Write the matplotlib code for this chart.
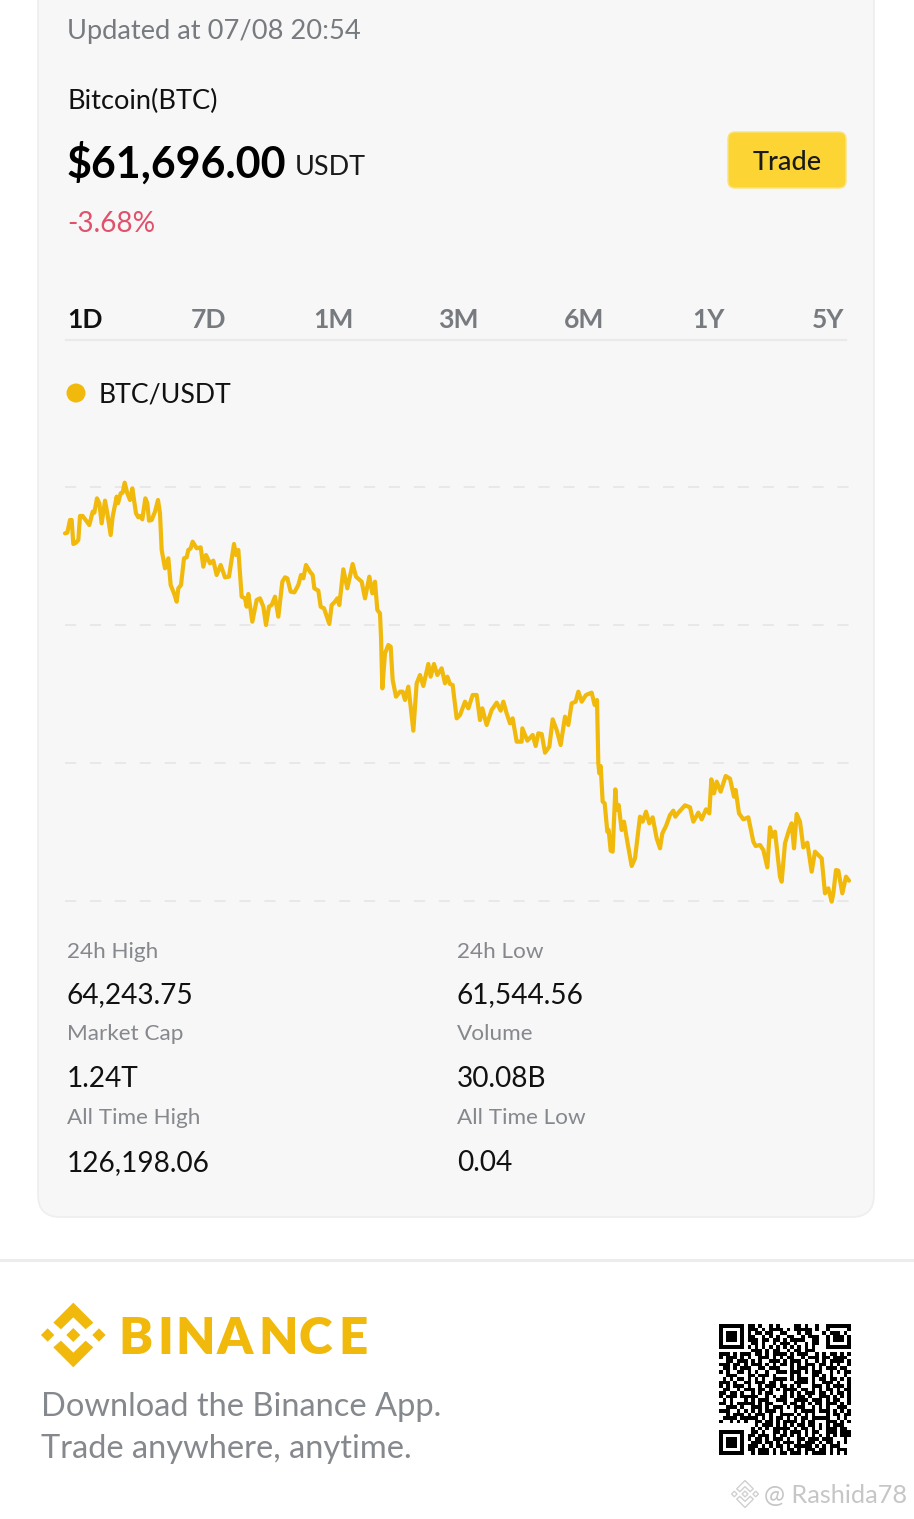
import matplotlib
matplotlib.use("Agg")
import matplotlib.pyplot as plt
import numpy as np
from matplotlib.patches import FancyBboxPatch, Polygon, Circle

plt.rcParams['font.family'] = ['Lato', 'DejaVu Sans']

# ---------- values ----------
updated = "Updated at 07/08 20:54"
coin = "Bitcoin(BTC)"
price_text = "$61,696.00"
quote = "USDT"
change = "-3.68%"
tabs = ["1D", "7D", "1M", "3M", "6M", "1Y", "5Y"]
pair = "BTC/USDT"
stat_labels = [["24h High", "Market Cap", "All Time High"], ["24h Low", "Volume", "All Time Low"]]
stat_values = [["64,243.75", "1.24T", "126,198.06"], ["61,544.56", "30.08B", "0.04"]]
HIGH, LOW = 64243.75, 61544.56

# position along the 24 h window, in read-off chart units (0 ... 2352)
pos = [0,7,15,20,25,33,40,45,53,73,83,88,96,103,110,120,127,137,143,155,159,167,173,179,187,195,202,213,220,225,232,241,247,252,260,270,279,285,290,300,
 310,317,327,335,340,348,357,365,370,377,383,395,407,415,423,435,445,455,467,480,492,507,513,520,530,540,545,550,562,575,585,595,603,612,620,630,640,652,660,667,
 677,688,700,708,715,723,735,743,748,760,767,777,793,
 800,810,817,823,835,847,863,873,890,900,913,922,930,937,945,948,952,960,970,977,983,993,1005,1013,1020,1030,1037,1045,1055,1065,1075,1090,1097,1107,1117,1130,1140,1147,1155,1163,
 1175,1185,1200,1210,1223,1235,1245,1252,1265,1280,1295,1307,1315,1325,1335,1343,1355,1370,1372,1387,1403,1412,1420,1430,1440,1453,1463,1475,1487,1500,1510,1520,1532,1540,1550,1563,
 1580,1589,1596,1600,1603,1607,1613,1619,1627,1631,1637,1643,1651,1655,1661,1670,1677,1687,1700,1710,1725,1733,1743,1753,1763,1775,1785,1792,1803,1815,1825,1831,1840,1860,1875,1885,
 1900,1910,1923,1933,1939,1947,1955,1967,1982,1995,2007,2012,2022,2035,2050,2065,2072,2085,2095,2107,2115,2122,2130,2145,2150,2160,2172,2180,2187,2195,2205,2215,2227,2240,2250,2260,2270,2280,2290,2300,2305,2313,2320,2332,2343,2352]
# line height above the lowest grid line, in the same read-off units
level = [1103,1105,1143,1143,1071,1075,1083,1155,1155,1128,1168,1165,1208,1193,1133,1201,1163,1098,1153,1213,1193,1223,1225,1255,1223,1203,1238,1163,1151,1155,1145,1208,1193,1141,1143,1168,1203,1163,1053,998,
 1028,948,923,898,938,948,1028,1031,1053,1058,1078,1058,1061,1003,1038,1013,1021,978,1008,971,973,1071,1038,1053,913,908,883,921,838,903,908,883,828,883,888,913,853,958,971,968,
 928,926,948,978,968,1008,988,978,938,931,883,878,831,
 888,898,908,888,995,938,1011,973,958,908,973,923,958,873,863,793,638,743,768,763,663,613,628,628,603,643,583,511,653,678,645,711,673,711,678,698,653,673,651,648,
 548,558,598,578,618,618,543,578,528,573,595,571,598,563,533,548,478,478,518,481,498,465,503,501,445,463,545,513,468,553,528,593,598,628,598,618,
 625,588,603,413,383,405,298,293,208,213,151,148,335,273,288,213,238,178,105,128,253,238,268,233,251,188,158,203,225,258,271,253,265,287,281,238,
 265,245,275,263,365,323,358,328,375,367,313,333,263,245,251,178,165,168,153,101,221,193,208,73,58,173,213,233,158,261,238,161,175,88,148,138,128,23,38,-2,23,93,91,23,73,61]
grid_levels = [0,414,828,1242]

# estimated QR modules
finder = ["#######","#.....#","#.###.#","#.###.#","#.###.#","#.....#","#######"]
qr_top = [".##.#..#.#....##.#..#..",".###.#.####.#.#####.#..",".#.##.##..##...#.##...",".##..#.#.#..##..#.###..",
 ".###.##.##.#.####..##..","..##.#..#.###.#..#.##..",".#.#.#.#.#.#.#.#.#.#...","..###.#.##..#.##.###..."]
qr_mid = ["###.#.###.##.#.####.#.###..#.#.##.#.#",
 "#.###.#.#..###.#.#.##..#.###.##.####.",
 "..##.###.#.#..###.#.###.#..#.#.####.#",
 "###.##.#.###.#.#.##.#.#.###.##.#.#..#",
 ".##.#.###..##.###...#.###.#.#.###.##.",
 "#.#..##.#.#..#..###.###.#.###..#.#.##",
 "..###...##.###.#....#.#...##.#.#...#.",
 ".#.#.##.#.#.#..####.#.###.#.##.##.#.#",
 "###.#..##.###.##.#...####.#..###.#..#",
 "#.#.###.#..#.###.##.#.#...###.#.###.#",
 ".##..#.###.##.#.#.####.##.#.#.##.#.##",
 "##.##.#..#.#.##...#.#.#.###.##.#.##.#",
 "#.###.#####..#.#.##.#.##.#..###.#.#.#",
 ".#.#...#.#.###..###..####.###.#.##..#",
 "##.#.#####.#.##...#.##.#.#.##.###.#.#",
 "..###.#..###.#.###.#.###..#.#.#..###.",
 "###..#.#.#.#.###.#...#.####.###.#.#.#",
 "..#.###.#.###.#..####.#.#.#...#.##.##",
 ".####.#####.#.#.##.#.#.##.#####..#.#.",
 "#..#.#.#..##.##.#.####.#.##...###.#.#",
 "..........#.###.#.#.#.##.##.#.#.###.."]
qr_bot = [".#.#.#.#####.#.##.#.#.###.##..","..##.#..##.#.###.#.##..###.###.",".##.###.#.##.#.#.#.#.#.#.#.###",
 ".#.##.#.###.#..##.###.###...#.","..###.##.#.###.#.###.#.##.#.#.#",".###.#.#.##.#.#####.#.#.###...",".##.###.#.#.##.#.###.##.#.###.#","..#.###.#.##.###.#.####.#.#.#.#"]

# ---------- helpers ----------
fig = plt.figure(figsize=(9.14, 15.19), dpi=100, facecolor='white')
ax = fig.add_axes([0, 0, 1, 1])
ax.set_xlim(0, 914); ax.set_ylim(1519, 0); ax.axis('off')

def T(x, y, s, px, color='#111111', weight='normal', ha='left', zorder=5, **kw):
    return ax.text(x, y, s, fontsize=px * 0.72, color=color, fontweight=weight, ha=ha, va='center_baseline', zorder=zorder, **kw)

GOLD = '#F0B90B'

def logo(cx, cy, k, color, fill=True):
    chev = [(0,-97),(60,-37),(37,-17),(0,-53),(-37,-17),(-60,-37)]
    shapes = [chev, [(a,-b) for a,b in chev]]
    for dx in (-77, 0, 77):
        r = 20 if dx else 21
        shapes.append([(dx,-r),(dx+r,0),(dx,r),(dx-r,0)])
    for s in shapes:
        ax.add_patch(Polygon([(cx+a*k, cy+b*k) for a,b in s], closed=True,
                             facecolor=color if fill else 'none', edgecolor=color if not fill else 'none', lw=1, zorder=5))

# ---------- card ----------
ax.add_patch(FancyBboxPatch((38, -60), 836, 1277, boxstyle="round,pad=0,rounding_size=22",
                            facecolor='#f7f7f8', edgecolor='#eeeeef', lw=1.2, zorder=1))
ax.plot([0, 914], [1260, 1260], color='#ececec', lw=2.2, zorder=1)

T(67, 29, updated, 27.2, color='#777a7e')
T(67, 99, coin, 27.2, color='#111111')
T(67, 160, price_text, 43, color='#000000', weight='bold')
T(295, 165, quote, 27, color='#1a1a1a')
T(67, 221, change, 28, color='#e0516b')

ax.add_patch(FancyBboxPatch((728, 132), 118, 56, boxstyle="round,pad=0,rounding_size=7",
                            facecolor='#FCD535', edgecolor='#fbe27c', lw=1, zorder=3))
T(787, 160, "Trade", 27, color='#1a1a1a', ha='center', weight='medium')

tab_x = [85, 208, 333, 458, 584, 708, 828]
for i, (s, x) in enumerate(zip(tabs, tab_x)):
    T(x, 318, s, 26.5, color='#111111' if i == 0 else '#777a7e', ha='center', weight='bold')
ax.plot([66, 846], [340, 340], color='#eaeaec', lw=1.6, zorder=2)

ax.add_patch(Circle((76, 393), 9.5, facecolor=GOLD, edgecolor='none', zorder=5))
T(99, 393, pair, 26.6, color='#111111')

# ---------- chart ----------
to_price = lambda v: LOW + (np.asarray(v, float) + 2) * (HIGH - LOW) / 1257
hours = np.asarray(pos, float) * 24 / 2352
chart = fig.add_axes([65 / 914, 1 - 901 / 1519, 784 / 914, 414 / 1519])
chart.patch.set_alpha(0)
chart.set_xlim(0, 24)
chart.set_ylim(to_price(grid_levels[0]), to_price(grid_levels[-1]))
chart.axis('off')
for g in grid_levels:
    chart.plot([0, 24], [to_price(g)] * 2, color='#e7e7ea', lw=1.3, linestyle=(0, (6.2, 7.6)), clip_on=False, zorder=1)
chart.plot(hours, to_price(level), color=GOLD, lw=3.0, solid_joinstyle='round', solid_capstyle='round', clip_on=False, zorder=3)

# ---------- stats ----------
for cx, labs, vals in zip((67, 457), stat_labels, stat_values):
    for ly, vy, l, v in zip((950, 1033, 1117), (993, 1077, 1161), labs, vals):
        T(cx, ly - 0.5, l, 22.5, color='#85888c')
        T(cx, vy - 0.5, v, 28, color='#111111')

# ---------- footer ----------
logo(73.3, 1335, 1/3, GOLD)
brand_letters = list("BINANCE")
brand_x = [118.5, 157.5, 175.5, 216.5, 258.5, 299, 338.5]
for ch, x in zip(brand_letters, brand_x):
    T(x, 1334.5, ch, 51, color=GOLD, weight='heavy')
T(41, 1404.5, "Download the Binance App.", 32.7, color='#85888c')
T(41, 1446.5, "Trade anywhere, anytime.", 32.7, color='#85888c')

rows = []
for i in range(7):
    rows.append(finder[i] + qr_top[i] + finder[i])
rows.append("......." + qr_top[7] + ".......")
rows += qr_mid
rows.append("........" + qr_bot[0])
for i in range(7):
    rows.append(finder[i] + qr_bot[i + 1])
rows = rows[:37]
qr = np.array([[c != '#' for c in r.ljust(37, '.')[:37]] for r in rows], float)
ax.imshow(qr, cmap='gray', vmin=0, vmax=1, extent=(719, 851, 1455, 1324), interpolation='nearest', aspect='auto', zorder=4)
ax.set_xlim(0, 914); ax.set_ylim(1519, 0)

logo(745, 1494, 1/7.2, '#d0d0d0', fill=False)
T(764, 1494, "@ Rashida78", 25.2, color='#c6c6c6')

fig.savefig('out.png', dpi=100, facecolor='white')
